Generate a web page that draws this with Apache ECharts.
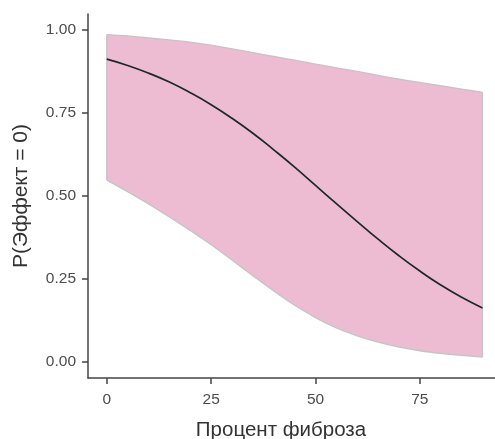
<!DOCTYPE html>
<html>
<head>
<meta charset="utf-8">
<script src="https://cdn.jsdelivr.net/npm/echarts@6/dist/echarts.min.js"></script>
<style>
html,body{margin:0;padding:0;background:#fff;}
#chart{width:495px;height:439px;}
</style>
</head>
<body>
<div id="chart"></div>
<script>
// Data
var fibrosis = [0, 5, 10, 15, 20, 25, 30, 35, 40, 45, 50, 55, 60, 65, 70, 75, 80, 85, 90];
var pEffect0 = [0.912, 0.893, 0.870, 0.843, 0.811, 0.775, 0.734, 0.689, 0.639, 0.587, 0.532, 0.477, 0.423, 0.370, 0.320, 0.274, 0.232, 0.195, 0.163];
var upperCI  = [0.986, 0.982, 0.976, 0.970, 0.963, 0.954, 0.943, 0.932, 0.920, 0.909, 0.897, 0.886, 0.875, 0.863, 0.852, 0.842, 0.832, 0.822, 0.812];
var lowerCI  = [0.548, 0.513, 0.476, 0.437, 0.396, 0.353, 0.307, 0.260, 0.214, 0.171, 0.134, 0.103, 0.079, 0.060, 0.045, 0.034, 0.026, 0.020, 0.015];
var xTicks = [0, 25, 50, 75];
var yTicks = [0, 0.25, 0.5, 0.75, 1];
var xTitle = 'Процент фиброза';
var yTitle = 'P(Эффект = 0)';

var ribbonData = fibrosis.map(function (x, i) { return [x, lowerCI[i], upperCI[i]]; });
var lineData = fibrosis.map(function (x, i) { return [x, pEffect0[i]]; });

var FONT = 'Liberation Sans, Arial, sans-serif';
var borderCol = '#c4c4c4';

function renderRibbon(params, api) {
  if (params.dataIndex !== 0) return null;
  var up = [], lo = [];
  for (var i = 0; i < fibrosis.length; i++) {
    up.push(api.coord([fibrosis[i], upperCI[i]]));
    lo.push(api.coord([fibrosis[i], lowerCI[i]]));
  }
  var poly = up.concat(lo.slice().reverse());
  var e = up.length - 1;
  return {
    type: 'group',
    children: [
      {type: 'polygon', shape: {points: poly}, style: {fill: '#edbbd2', stroke: null}},
      {type: 'polyline', shape: {points: up, smooth: 0.3}, style: {stroke: borderCol, lineWidth: 1.3, fill: null}},
      {type: 'polyline', shape: {points: lo, smooth: 0.3}, style: {stroke: borderCol, lineWidth: 1.3, fill: null}},
      {type: 'line', shape: {x1: up[0][0], y1: up[0][1], x2: lo[0][0], y2: lo[0][1]}, style: {stroke: borderCol, lineWidth: 1.3}},
      {type: 'line', shape: {x1: up[e][0], y1: up[e][1], x2: lo[e][0], y2: lo[e][1]}, style: {stroke: borderCol, lineWidth: 1.3}}
    ]
  };
}

var chart = echarts.init(document.getElementById('chart'), null, {renderer: 'canvas'});
chart.setOption({
  animation: false,
  backgroundColor: '#ffffff',
  grid: {left: 88, right: 0, top: 14, bottom: 61, containLabel: false},
  xAxis: {
    type: 'value', min: -4.5, max: 93,
    splitLine: {show: false},
    axisLine: {show: true, onZero: false, lineStyle: {color: '#444', width: 1.5}},
    axisTick: {show: true, customValues: xTicks, length: 6, lineStyle: {color: '#444', width: 1.5}},
    axisLabel: {customValues: xTicks, color: '#4d4d4d', fontSize: 15.5, fontFamily: FONT, margin: 14}
  },
  yAxis: {
    type: 'value', min: -0.048, max: 1.048,
    splitLine: {show: false},
    axisLine: {show: true, onZero: false, lineStyle: {color: '#444', width: 1.5}},
    axisTick: {show: true, customValues: yTicks, length: 6, lineStyle: {color: '#444', width: 1.5}},
    axisLabel: {customValues: yTicks, color: '#4d4d4d', fontSize: 15.5, fontFamily: FONT, margin: 12,
      formatter: function (v) { return v.toFixed(2); }},
    name: yTitle, nameLocation: 'middle', nameGap: 56, nameRotate: 90,
    nameTextStyle: {color: '#333', fontSize: 21, fontFamily: FONT}
  },
  graphic: [{
    type: 'text', x: 281, y: 430,
    style: {text: xTitle, fill: '#333', font: '20.5px "Liberation Sans", Arial, sans-serif', textAlign: 'center', textVerticalAlign: 'middle'}
  }],
  series: [
    {
      type: 'custom', data: ribbonData, renderItem: renderRibbon, z: 1,
      encode: {x: 0, y: [1, 2]}, silent: true
    },
    {
      type: 'line', data: lineData, smooth: true, symbol: 'none',
      lineStyle: {color: '#1b2a27', width: 1.7}, z: 3
    }
  ]
});
</script>
</body>
</html>
